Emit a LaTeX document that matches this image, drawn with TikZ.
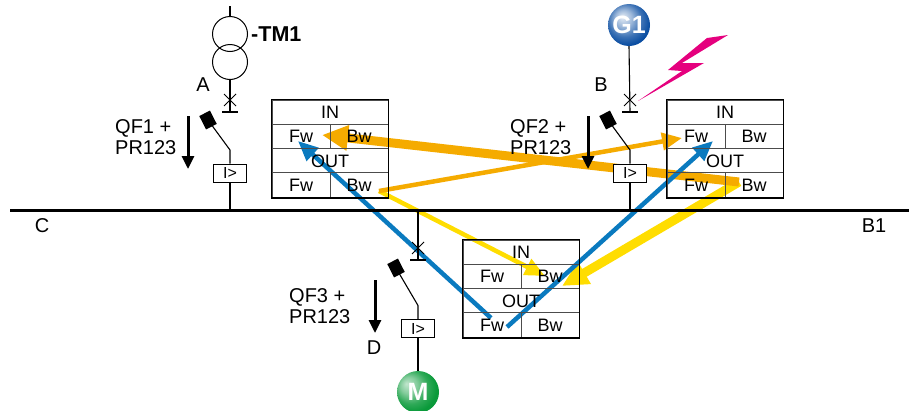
\documentclass[tikz,border=0pt]{standalone}
\usepackage{fontspec}
\usepackage{xcolor}
\setmainfont{Liberation Sans}
\usetikzlibrary{arrows.meta,backgrounds}
\definecolor{flow}{HTML}{F5AB00}
\definecolor{block}{HTML}{FFDD00}
\definecolor{trip}{HTML}{0A7ABF}
\definecolor{fault}{HTML}{E5007E}
\definecolor{genblue}{HTML}{0B4EA2}
\definecolor{motgreen}{HTML}{0A9A3A}
\pgfdeclareradialshading{genball}{\pgfpoint{-8bp}{10bp}}{color(0bp)=(genblue!10);color(10bp)=(genblue!40);color(20bp)=(genblue!80);color(28bp)=(genblue);color(50bp)=(genblue)}
\pgfdeclareradialshading{motball}{\pgfpoint{-14bp}{10bp}}{color(0bp)=(motgreen!25);color(10bp)=(motgreen!50);color(20bp)=(motgreen!85);color(28bp)=(motgreen);color(50bp)=(motgreen)}
\tikzset{
    lab/.style={inner sep=0pt,font=\fontsize{20}{21}\selectfont},
    qflab/.style={lab,anchor=west,align=left},
    ball/.style={circle,minimum size=42pt,inner sep=0pt,text=white,font=\fontsize{25}{25}\selectfont\bfseries},
    wind/.style={circle,draw,line width=1pt,minimum size=35pt,inner sep=0pt},
    cell/.style={draw=black!70,line width=1pt,minimum height=24.3pt,inner sep=0pt,font=\fontsize{18}{18}\selectfont},
    half/.style={cell,minimum width=58pt},
    whole/.style={cell,minimum width=116pt},
    tripbox/.style={draw,fill=white,line width=1pt,minimum width=33pt,minimum height=18pt,inner sep=0pt,font=\fontsize{16}{16}\selectfont},
    contact/.style={fill=black,minimum width=12pt,minimum height=15pt,inner sep=0pt,rotate=27},
    wire/.style={line width=1.1pt},
    sense/.style={line width=3pt,-{Triangle[length=13pt,width=12pt]}},
    thin flow/.style={line width=4.5pt,-{Triangle[length=20pt,width=17pt]}},
    thick flow/.style={line width=9pt,-{Triangle[length=26pt,width=24pt]}}
}

\begin{document}
\begin{tikzpicture}[x=1pt,y=-1pt]
    \useasboundingbox (0,0) rectangle (909,410);

    \coordinate (busl) at (10,210);
    \coordinate (busr) at (909,210);
    \draw [line width=3pt] (busl) -- (busr);

    \foreach \t/\x/\y in {p/272/100,q/667/100,r/463/240}{
        \node[whole] (\t-in) at (\x+58,\y+12.2) {IN};
        \node[half] (\t-infw) at (\x+29,\y+36.5) {Fw};
        \node[half] (\t-inbw) at (\x+87,\y+36.5) {Bw};
        \node[whole] (\t-out) at (\x+58,\y+60.8) {OUT};
        \node[half] (\t-outfw) at (\x+29,\y+85.1) {Fw};
        \node[half] (\t-outbw) at (\x+87,\y+85.1) {Bw};
        \draw [line width=1.5pt] (\t-in.north west) rectangle (\t-outbw.south east);
    }

    \foreach \n/\x/\y/\z in {a/230/112/173,b/630/112/173,c/418/260/328.5}{
        \coordinate (\n-bar) at (\x,\y);
        \coordinate (\n-barl) at (\x-8,\y);
        \coordinate (\n-barr) at (\x+8,\y);
        \coordinate (\n-xa) at (\x-6,\y-18);
        \coordinate (\n-xb) at (\x+6,\y-6);
        \coordinate (\n-xc) at (\x-6,\y-6);
        \coordinate (\n-xd) at (\x+6,\y-18);
        \coordinate (\n-hinge) at (\x,\z-23);
        \node[contact] (\n-con) at (\x-22,\y+8) {};
        \node[tripbox] (\n-trip) at (\x,\z) {I>};
        \draw [wire] (\n-barl) -- (\n-barr);
        \draw [line width=0.8pt] (\n-xa) -- (\n-xb);
        \draw [line width=0.8pt] (\n-xc) -- (\n-xd);
        \draw [wire] (\n-con.center) -- (\n-hinge) -- (\n-trip.north);
    }

    \coordinate (tmtop) at (230,6);
    \node[wind] (tmup) at (230,34) {};
    \node[wind] (tmlo) at (230,62) {};
    \node[lab,anchor=west,font=\fontsize{21.5}{21.5}\selectfont\bfseries] (tmlab) at (251,34) {-TM1};
    \node[ball,shading=genball] (gen) at (629,25) {G1};
    \node[ball,shading=motball] (mot) at (418,392) {M};

    \draw [wire] (tmtop) -- (tmup.north);
    \draw [wire] (tmlo.south) -- (a-bar);
    \draw [wire] (a-trip.south) -- (a-trip.south |- busl);
    \draw [wire] (gen.south) -- (b-bar);
    \draw [wire] (b-trip.south) -- (b-trip.south |- busl);
    \draw [wire] (c-bar |- busl) -- (c-bar);
    \draw [wire] (c-trip.south) -- (mot.north);

    \node[lab] (la) at (203,85) {A};
    \node[lab] (lb) at (601,85) {B};
    \node[lab] (lc) at (42,226) {C};
    \node[lab] (lbo) at (874,226) {B1};
    \node[lab] (ld) at (374,348) {D};
    \node[qflab] (qfa) at (115,137) {QF1 +\\PR123};
    \node[qflab] (qfb) at (510,137) {QF2 +\\PR123};
    \node[qflab] (qfc) at (289,306) {QF3 +\\PR123};

    \coordinate (arra) at (188,116);
    \coordinate (arrae) at (188,169);
    \coordinate (arrb) at (588,116);
    \coordinate (arrbe) at (588,169);
    \coordinate (arrc) at (375,280);
    \coordinate (arrce) at (375,333);
    \draw [sense] (arra) -- (arrae);
    \draw [sense] (arrb) -- (arrbe);
    \draw [sense] (arrc) -- (arrce);

    \fill [fault] (728,35) -- (707,38) -- (668,70) -- (682,71) -- (638,101) -- (704,63) -- (682,63) -- cycle;

    \coordinate (pstart) at (379,191);
    \coordinate (qstart) at (739,182);
    \coordinate (qhit) at (322,135);
    \coordinate (qpass) at (682,138);
    \coordinate (rhit) at (545,276);
    \coordinate (rpass) at (562,286);
    \coordinate (rfwa) at (491,318);
    \coordinate (rfwb) at (507,327);
    \coordinate (ptip) at (298,141);
    \coordinate (qtip) at (713,141);

    \begin{scope}[on background layer]
        \draw [thick flow,block] (qstart) -- (rpass);
        \draw [thin flow,block] (pstart) -- (rhit);
        \draw [thin flow,flow] (pstart) -- (qpass);
        \draw [thick flow,flow] (qstart) -- (qhit);
        \draw [thin flow,trip] (rfwa) -- (ptip);
        \draw [thin flow,trip] (rfwb) -- (qtip);
    \end{scope}
\end{tikzpicture}
\end{document}
